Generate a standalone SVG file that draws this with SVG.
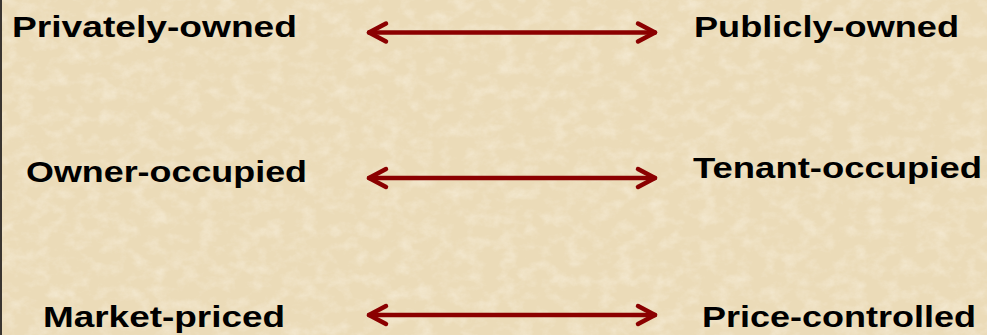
<svg xmlns="http://www.w3.org/2000/svg" width="987" height="335" viewBox="0 0 987 335">
<style>
.lbl{font-family:"Liberation Sans",Arial,sans-serif;font-weight:bold;font-size:30px;fill:#000}
.arr{stroke:#8B0000;stroke-width:4.5;fill:none;stroke-linecap:round}
</style>
<defs>
<filter id="tex" x="0" y="0" width="100%" height="100%">
<feTurbulence type="fractalNoise" baseFrequency="0.06 0.08" numOctaves="4" seed="7" result="n"/>
<feColorMatrix in="n" type="matrix" values="0 0 0 0 0.99  0 0 0 0 0.95  0 0 0 0 0.86  0 0 0 1.4 -0.6"/>
</filter>
<marker id="hd" viewBox="-25 -15 30 30" refX="0" refY="0" markerWidth="30" markerHeight="30" markerUnits="userSpaceOnUse" orient="auto-start-reverse" overflow="visible">
<path d="M-17,-9 L0,0 L-17,9" fill="none" stroke="#8B0000" stroke-width="4.5" stroke-linecap="round" stroke-linejoin="round"/>
</marker>
</defs>
<rect width="987" height="335" fill="#EBDBB8"/>
<rect width="987" height="335" filter="url(#tex)" opacity="0.6"/>
<rect x="0" y="0" width="2" height="335" fill="#3a3530"/>
<g id="privately-owned"><text class="lbl" x="12" y="37" textLength="285" lengthAdjust="spacingAndGlyphs">Privately-owned</text></g>
<g id="publicly-owned"><text class="lbl" x="694" y="37" textLength="265" lengthAdjust="spacingAndGlyphs">Publicly-owned</text></g>
<g id="owner-occupied"><text class="lbl" x="26" y="182" textLength="281" lengthAdjust="spacingAndGlyphs">Owner-occupied</text></g>
<g id="tenant-occupied"><text class="lbl" x="693" y="178" textLength="289" lengthAdjust="spacingAndGlyphs">Tenant-occupied</text></g>
<g id="market-priced"><text class="lbl" x="43" y="327" textLength="242" lengthAdjust="spacingAndGlyphs">Market-priced</text></g>
<g id="price-controlled"><text class="lbl" x="702" y="327" textLength="274" lengthAdjust="spacingAndGlyphs">Price-controlled</text></g>
<g id="connectors">
<line class="arr" x1="369" y1="32.5" x2="655" y2="32.5" marker-start="url(#hd)" marker-end="url(#hd)"/>
<line class="arr" x1="369" y1="178" x2="655" y2="178" marker-start="url(#hd)" marker-end="url(#hd)"/>
<line class="arr" x1="369" y1="315" x2="655" y2="315" marker-start="url(#hd)" marker-end="url(#hd)"/>
</g>
</svg>
